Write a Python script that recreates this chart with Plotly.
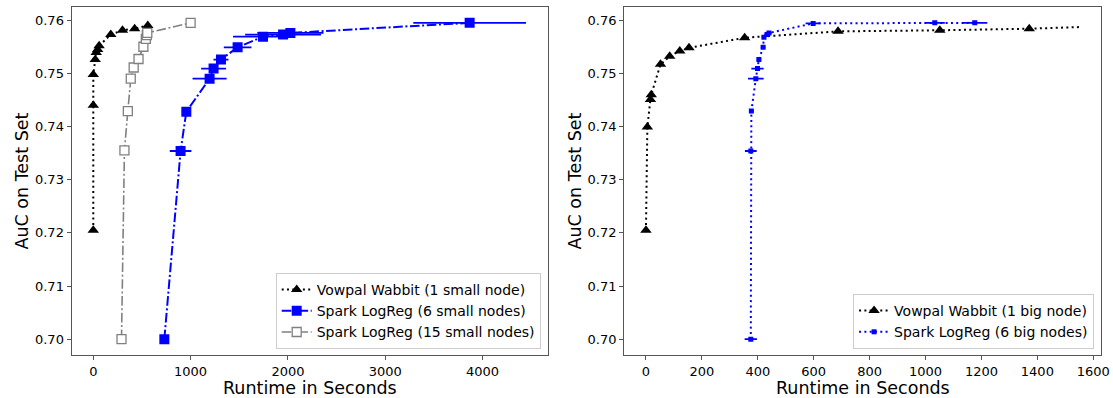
import plotly.graph_objects as go

# ---- Left panel data ----
vw_small_x = [0, 0, 0, 20, 30, 45, 60, 180, 300, 425, 560]
vw_small_y = [0.7205, 0.7440, 0.7498, 0.7526, 0.7539, 0.7545, 0.7552, 0.7573, 0.7581, 0.7584, 0.7590]

sp6s_x = [730, 897, 956, 1195, 1236, 1312, 1483, 1744, 1950, 2025, 3867]
sp6s_y = [0.7000, 0.7354, 0.7428, 0.7490, 0.7509, 0.7526, 0.7549, 0.7569, 0.7573, 0.7576, 0.7595]
sp6s_err = [0, 111, 0, 175, 128, 77, 142, 308, 390, 340, 579]

sp15_x = [290, 320, 355, 385, 415, 465, 515, 540, 550, 555, 1000]
sp15_y = [0.7000, 0.7355, 0.7429, 0.7490, 0.7511, 0.7527, 0.7550, 0.7565, 0.7572, 0.7576, 0.7595]

# ---- Right panel data ----
vw_big_x = [0, 5, 16, 19, 52, 85, 121, 154, 353, 687, 1051, 1371]
vw_big_y = [0.7205, 0.7399, 0.7451, 0.7460, 0.7517, 0.7532, 0.7542, 0.7548, 0.7567, 0.7579, 0.7581, 0.7584]
vw_big_tail_x = [1371, 1550]
vw_big_tail_y = [0.7584, 0.7587]

sp6b_x = [375, 375, 377, 393, 399, 404, 419, 422, 433, 440, 598, 1033, 1176]
sp6b_y = [0.7000, 0.7354, 0.7429, 0.7490, 0.7509, 0.7526, 0.7549, 0.7568, 0.7573, 0.7576, 0.7594, 0.7595, 0.7595]
sp6b_err = [22, 21, 8, 28, 22, 8, 8, 8, 10, 10, 27, 36, 45]

y_ticks = [0.70, 0.71, 0.72, 0.73, 0.74, 0.75, 0.76]
y_range = [0.69703, 0.76248]
x_left_range = [-222, 4669]
x_right_range = [-77.5, 1627.5]

x_title = "Runtime in Seconds"
y_title = "AuC on Test Set"

FONT = "DejaVu Sans"
DOT = "2px,3.3px"
DASHDOT = "9.6px,2.6px,2px,2.6px"

fig = go.Figure()

fig.add_trace(go.Scatter(
    x=vw_small_x, y=vw_small_y, mode="lines+markers",
    name="Vowpal Wabbit (1 small node)",
    line=dict(color="black", width=2, dash=DOT),
    marker=dict(symbol="triangle-up", size=10, color="black"),
    xaxis="x", yaxis="y", legend="legend"))
fig.add_trace(go.Scatter(
    x=sp6s_x, y=sp6s_y, mode="lines+markers",
    name="Spark LogReg (6 small nodes)",
    line=dict(color="#0000ff", width=2, dash=DASHDOT),
    marker=dict(symbol="square", size=10, color="#0000ff"),
    error_x=dict(type="data", array=sp6s_err, symmetric=True, color="#0000ff", thickness=1.8, width=0),
    xaxis="x", yaxis="y", legend="legend"))
fig.add_trace(go.Scatter(
    x=sp15_x, y=sp15_y, mode="lines+markers",
    name="Spark LogReg (15 small nodes)",
    line=dict(color="gray", width=1.6, dash=DASHDOT),
    marker=dict(symbol="square", size=9, color="white", line=dict(color="gray", width=1.3)),
    xaxis="x", yaxis="y", legend="legend"))

fig.add_trace(go.Scatter(
    x=vw_big_tail_x, y=vw_big_tail_y, mode="lines",
    line=dict(color="black", width=2, dash=DOT), showlegend=False, hoverinfo="skip",
    xaxis="x2", yaxis="y2"))
fig.add_trace(go.Scatter(
    x=vw_big_x, y=vw_big_y, mode="lines+markers",
    name="Vowpal Wabbit (1 big node)",
    line=dict(color="black", width=2, dash=DOT),
    marker=dict(symbol="triangle-up", size=10, color="black"),
    xaxis="x2", yaxis="y2", legend="legend2"))
fig.add_trace(go.Scatter(
    x=sp6b_x, y=sp6b_y, mode="lines+markers",
    name="Spark LogReg (6 big nodes)",
    line=dict(color="#0000ff", width=2, dash=DOT),
    marker=dict(symbol="square", size=5, color="#0000ff"),
    error_x=dict(type="data", array=sp6b_err, symmetric=True, color="#0000ff", thickness=1.8, width=0),
    xaxis="x2", yaxis="y2", legend="legend2"))

axis_common = dict(showline=True, linecolor="#555555", linewidth=1.3, mirror=True,
                   ticks="outside", ticklen=4, tickwidth=1.2, tickcolor="#555555",
                   showgrid=False, zeroline=False, automargin=False,
                   tickfont=dict(family=FONT, size=13, color="black"))

title_font = dict(family=FONT, size=17.5, color="black")
annotations = [
    dict(text=x_title, x=0.2783, y=0.0251, xref="paper", yref="paper",
         xanchor="center", yanchor="middle", showarrow=False, font=title_font),
    dict(text=x_title, x=0.7751, y=0.0251, xref="paper", yref="paper",
         xanchor="center", yanchor="middle", showarrow=False, font=title_font),
    dict(text=y_title, x=0.0202, y=0.545, xref="paper", yref="paper", textangle=-90,
         xanchor="center", yanchor="middle", showarrow=False, font=title_font),
    dict(text=y_title, x=0.517, y=0.545, xref="paper", yref="paper", textangle=-90,
         xanchor="center", yanchor="middle", showarrow=False, font=title_font),
]

fig.update_layout(
    width=1113, height=398,
    margin=dict(l=0, r=0, t=0, b=0),
    paper_bgcolor="white", plot_bgcolor="white",
    font=dict(family=FONT, color="black"),
    xaxis=dict(domain=[0.0644, 0.4921], range=x_left_range, dtick=1000, anchor="y", **axis_common),
    yaxis=dict(domain=[0.1080, 0.9824], range=y_range, tickvals=y_ticks, tickformat=".2f",
               anchor="x", **axis_common),
    xaxis2=dict(domain=[0.5609, 0.9892], range=x_right_range, dtick=200, anchor="y2", **axis_common),
    yaxis2=dict(domain=[0.1080, 0.9824], range=y_range, tickvals=y_ticks, tickformat=".2f",
                anchor="x2", **axis_common),
    annotations=annotations,
    legend=dict(x=0.4858, y=0.1231, xanchor="right", yanchor="bottom",
                bgcolor="rgba(255,255,255,0.8)", bordercolor="#cccccc", borderwidth=1,
                font=dict(family=FONT, size=14), itemwidth=30, tracegroupgap=0),
    legend2=dict(x=0.983, y=0.1231, xanchor="right", yanchor="bottom",
                 bgcolor="rgba(255,255,255,0.8)", bordercolor="#cccccc", borderwidth=1,
                 font=dict(family=FONT, size=14), itemwidth=30, tracegroupgap=0),
)

fig.write_html("out.html")
